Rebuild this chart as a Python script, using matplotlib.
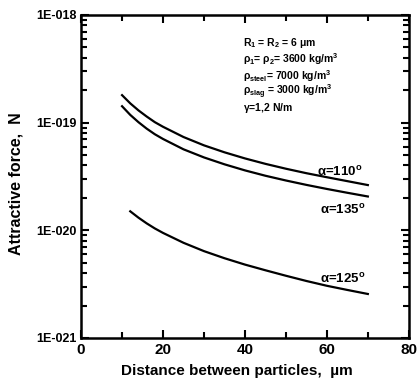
import numpy as np
import matplotlib.pyplot as plt
from matplotlib.ticker import LogLocator, NullFormatter, FixedLocator

plt.rcParams['font.family'] = ['Liberation Sans', 'DejaVu Sans']
plt.rcParams['font.weight'] = 'bold'
plt.rcParams['axes.labelweight'] = 'bold'
plt.rcParams['mathtext.fontset'] = 'custom'
plt.rcParams['mathtext.rm'] = 'Liberation Sans:bold'
plt.rcParams['mathtext.it'] = 'Liberation Sans:bold'
plt.rcParams['mathtext.bf'] = 'Liberation Sans:bold'

# distance between particles, um
dist = [10, 12, 14, 16, 18, 20, 25, 30, 35, 40, 45, 50, 55, 60, 65, 70]
dist_125 = [12, 14, 16, 18, 20, 25, 30, 35, 40, 45, 50, 55, 60, 65, 70]

# attractive force, N
f_110 = [1.80e-19, 1.51e-19, 1.30e-19, 1.14e-19, 1.01e-19, 9.15e-20, 7.35e-20, 6.15e-20,
         5.3e-20, 4.65e-20, 4.14e-20, 3.73e-20, 3.39e-20, 3.11e-20, 2.86e-20, 2.63e-20]
f_135 = [1.42e-19, 1.18e-19, 1.01e-19, 8.8e-20, 7.8e-20, 7.05e-20, 5.65e-20, 4.75e-20,
         4.1e-20, 3.6e-20, 3.21e-20, 2.9e-20, 2.64e-20, 2.42e-20, 2.23e-20, 2.06e-20]
f_125 = [1.50e-20, 1.31e-20, 1.16e-20, 1.04e-20, 9.45e-21, 7.65e-21, 6.4e-21, 5.5e-21,
         4.8e-21, 4.25e-21, 3.78e-21, 3.38e-21, 3.05e-21, 2.79e-21, 2.56e-21]

xticks = [0, 20, 40, 60, 80]
yticks = [1e-21, 1e-20, 1e-19, 1e-18]
ytick_labels = ['1E-021', '1E-020', '1E-019', '1E-018']

params = [
    r'R$_1$ = R$_2$ = 6 $\mu$m',
    r'$\rho_1$= $\rho_2$= 3600 kg/m$^3$',
    r'$\rho_{steel}$= 7000 kg/m$^3$',
    r'$\rho_{slag}$ = 3000 kg/m$^3$',
    r'$\gamma$=1,2 N/m',
]

fig = plt.figure(figsize=(4.18, 3.84), dpi=100)
ax = fig.add_axes([0.194, 0.12, 0.784, 0.841])

ax.plot(dist, f_110, color='black', lw=1.6)
ax.plot(dist, f_135, color='black', lw=1.6)
ax.plot(dist_125, f_125, color='black', lw=1.6)

ax.set_yscale('log')
ax.set_xlim(0, 80)
ax.set_ylim(1e-21, 1e-18)
ax.set_xticks(xticks)
ax.set_xticklabels([str(t) for t in xticks], fontsize=11)
ax.xaxis.set_minor_locator(FixedLocator([10, 30, 50, 70]))
ax.set_yticks(yticks)
ax.set_yticklabels(ytick_labels, fontsize=9)
ax.yaxis.set_minor_locator(LogLocator(base=10, subs=np.arange(2, 10)))
ax.yaxis.set_minor_formatter(NullFormatter())

ax.tick_params(which='both', direction='in', top=True, right=True, width=1.5)
ax.tick_params(which='major', length=6)
ax.tick_params(which='minor', length=4)
ax.tick_params(axis='y', which='major', pad=3)
ax.tick_params(axis='x', which='major', pad=4)
for s in ax.spines.values():
    s.set_linewidth(1.8)

ax.set_xlabel('Distance between particles,  \u00b5m', fontsize=11)
ax.set_ylabel('Attractive force,  N', fontsize=11.5)
ax.xaxis.set_label_coords(0.474, -0.082)
ax.yaxis.set_label_coords(-0.177, 0.477)

for i, t in enumerate(params):
    ax.text(39.5, 10 ** (-18.26 - i * 0.152), t, fontsize=7.5, va='center', ha='left')

ax.text(68.7, 10 ** (-19.46), r'$\alpha$=110$^o$', fontsize=9.5, ha='right', va='center')
ax.text(69.5, 10 ** (-19.81), r'$\alpha$=135$^o$', fontsize=9.5, ha='right', va='center')
ax.text(69.5, 10 ** (-20.45), r'$\alpha$=125$^o$', fontsize=9.5, ha='right', va='center')

fig.savefig('out.png', dpi=100)
